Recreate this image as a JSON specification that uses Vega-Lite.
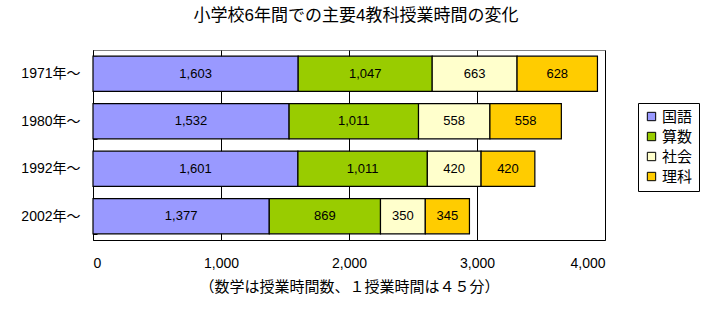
{
  "$schema": "https://vega.github.io/schema/vega-lite/v6.json",
  "width": 512,
  "height": 190,
  "autosize": "none",
  "padding": {"left": 93, "top": 50, "right": 110, "bottom": 72},
  "background": "white",
  "config": {
    "font": "Liberation Sans, Noto Sans CJK JP, sans-serif",
    "view": {"stroke": "#808080", "strokeWidth": 1},
    "axisX": {
      "titleFontSize": 15,
      "titleFontWeight": "normal",
      "titleColor": "black",
      "titlePadding": 9,
      "labelFontSize": 14,
      "labelColor": "black",
      "labelPadding": 16,
      "ticks": false,
      "domainColor": "black",
      "grid": true,
      "gridColor": "black",
      "gridWidth": 1,
      "gridOpacity": 1
    }
  },
  "title": {
    "text": "小学校6年間での主要4教科授業時間の変化",
    "fontSize": 17,
    "fontWeight": "normal",
    "color": "black",
    "offset": 18,
    "dx": 7
  },
  "data": {
    "values": [
      {"period": "1971年～", "subject": "国語", "hours": 1603, "order": 1},
      {"period": "1971年～", "subject": "算数", "hours": 1047, "order": 2},
      {"period": "1971年～", "subject": "社会", "hours": 663, "order": 3},
      {"period": "1971年～", "subject": "理科", "hours": 628, "order": 4},
      {"period": "1980年～", "subject": "国語", "hours": 1532, "order": 1},
      {"period": "1980年～", "subject": "算数", "hours": 1011, "order": 2},
      {"period": "1980年～", "subject": "社会", "hours": 558, "order": 3},
      {"period": "1980年～", "subject": "理科", "hours": 558, "order": 4},
      {"period": "1992年～", "subject": "国語", "hours": 1601, "order": 1},
      {"period": "1992年～", "subject": "算数", "hours": 1011, "order": 2},
      {"period": "1992年～", "subject": "社会", "hours": 420, "order": 3},
      {"period": "1992年～", "subject": "理科", "hours": 420, "order": 4},
      {"period": "2002年～", "subject": "国語", "hours": 1377, "order": 1},
      {"period": "2002年～", "subject": "算数", "hours": 869, "order": 2},
      {"period": "2002年～", "subject": "社会", "hours": 350, "order": 3},
      {"period": "2002年～", "subject": "理科", "hours": 345, "order": 4}
    ]
  },
  "transform": [
    {"stack": "hours", "groupby": ["period"], "sort": [{"field": "order", "order": "ascending"}], "as": ["x0", "x1"]}
  ],
  "encoding": {
    "y": {
      "field": "period",
      "type": "nominal",
      "sort": ["1971年～", "1980年～", "1992年～", "2002年～"],
      "scale": {"paddingInner": 0.26, "paddingOuter": 0.13},
      "axis": {
        "title": null,
        "labelFontSize": 14,
        "labelColor": "black",
        "labelPadding": 17,
        "ticks": true,
        "tickBand": "extent",
        "tickSize": -4,
        "tickColor": "black",
        "domainColor": "black",
        "domainWidth": 1
      }
    }
  },
  "layer": [
    {
      "mark": {"type": "bar", "stroke": "black", "strokeWidth": 1.2},
      "encoding": {
        "x": {
          "field": "x0",
          "type": "quantitative",
          "scale": {"domain": [0, 4000], "nice": false},
          "axis": {
            "values": [0, 1000, 2000, 3000, 4000],
            "labelExpr": "format(datum.value, ',')",
            "title": "（数学は授業時間数、１授業時間は４５分）"
          }
        },
        "x2": {"field": "x1"},
        "color": {
          "field": "subject",
          "type": "nominal",
          "scale": {"domain": ["国語", "算数", "社会", "理科"], "range": ["#9999FF", "#99CC00", "#FFFFCC", "#FFCC00"]},
          "legend": {
            "title": null,
            "orient": "none",
            "legendX": 545,
            "legendY": 53,
            "strokeColor": "black",
            "fillColor": "white",
            "padding": 6,
            "symbolType": "square",
            "symbolSize": 70,
            "symbolStrokeColor": "black",
            "symbolStrokeWidth": 1,
            "labelFontSize": 15,
            "labelColor": "black",
            "rowPadding": 4,
            "labelOffset": 3
          }
        }
      }
    },
    {
      "transform": [
        {"fold": ["x0", "x1"], "as": ["edge", "pos"]},
        {"aggregate": [{"op": "mean", "field": "pos", "as": "mid"}], "groupby": ["period", "subject", "hours"]}
      ],
      "mark": {"type": "text", "fontSize": 13, "color": "black", "baseline": "middle", "align": "center"},
      "encoding": {
        "x": {
          "field": "mid",
          "type": "quantitative",
          "axis": {
            "values": [0, 1000, 2000, 3000, 4000],
            "labelExpr": "format(datum.value, ',')",
            "title": "（数学は授業時間数、１授業時間は４５分）"
          }
        },
        "text": {"field": "hours", "type": "quantitative", "format": ","}
      }
    }
  ]
}
